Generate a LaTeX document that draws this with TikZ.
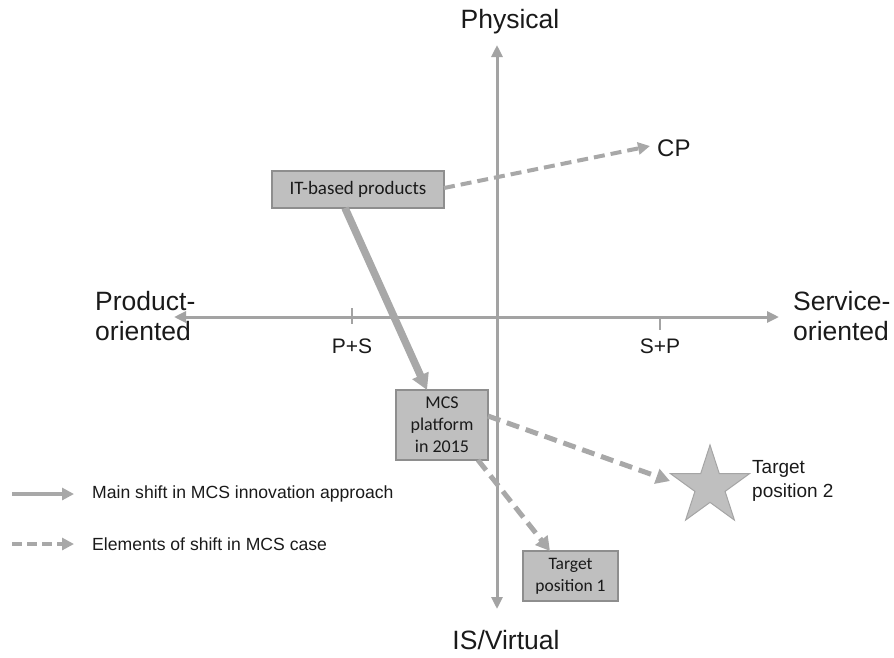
\documentclass[tikz,border=0pt]{standalone}
\usepackage{fontspec}
\setmainfont{Liberation Sans}
\newfontfamily\boxfont{Carlito}
\usetikzlibrary{arrows.meta,shapes.geometric}
\definecolor{axisgray}{HTML}{A3A3A3}
\definecolor{arrgray}{HTML}{A8A8A8}
\definecolor{boxfill}{HTML}{BFBFBF}
\definecolor{boxline}{HTML}{8E8E8E}
\definecolor{txt}{HTML}{1A1A1A}
\tikzset{
  axisline/.style={draw=axisgray, line width=3pt, {Triangle[length=12pt,width=11pt]}-{Triangle[length=12pt,width=11pt]}},
  tickline/.style={draw=axisgray, line width=2.5pt},
  mainarrow/.style={draw=arrgray, line width=7.5pt, -{Triangle[length=16pt,width=17pt]}},
  dasharrow/.style={draw=arrgray, line width=5pt, dash pattern=on 13pt off 7pt, -{Triangle[length=14pt,width=15pt]}},
  thindash/.style={draw=arrgray, line width=4pt, dash pattern=on 11pt off 6pt, -{Triangle[length=12pt,width=12pt]}},
  legmain/.style={draw=arrgray, line width=4pt, -{Triangle[length=12pt,width=12pt]}},
  legdash/.style={draw=arrgray, line width=4pt, dash pattern=on 10pt off 5pt, -{Triangle[length=12pt,width=12pt]}},
  graybox/.style={draw=boxline, line width=1.2pt, fill=boxfill, text=txt, font=\boxfont\fontsize{18}{22}\selectfont, align=center, inner sep=0pt},
  axislabel/.style={text=txt, font=\fontsize{26.5}{30}\selectfont, inner sep=0pt},
  ticklabel/.style={text=txt, font=\fontsize{21}{25}\selectfont, inner sep=0pt},
  legtext/.style={text=txt, font=\fontsize{17.6}{20}\selectfont, inner sep=0pt, anchor=west},
}
\begin{document}
\begin{tikzpicture}[x=1pt,y=-1pt]
\useasboundingbox (0,0) rectangle (894,657);
% axes
\coordinate (vtop) at (497,45);
\coordinate (vbot) at (497,609);
\coordinate (hl) at (174,317);
\coordinate (hr) at (779,317);
\draw[axisline] (vbot) -- (vtop);
\draw[axisline] (hl) -- (hr);
\coordinate (ps1) at (352,308);
\coordinate (ps2) at (352,324);
\coordinate (sp1) at (660,317);
\coordinate (sp2) at (660,330);
\draw[tickline] (ps1) -- (ps2);
\draw[tickline] (sp1) -- (sp2);
% axis labels
\node[axislabel] (phys) at (510,22) {Physical};
\node[axislabel] (isv) at (506,640) {IS/Virtual};
\node[axislabel, anchor=west, align=left] (prod) at (95,316) {Product-\\oriented};
\node[axislabel, anchor=west, align=left] (serv) at (793,316) {Service-\\oriented};
\node[ticklabel] (pslab) at (352,346) {P+S};
\node[ticklabel] (splab) at (660,346) {S+P};
\node[ticklabel, anchor=west, font=\fontsize{24}{28}\selectfont] (cp) at (657,148) {CP};
% boxes
\node[graybox, minimum width=172pt, minimum height=37pt, font=\boxfont\fontsize{19}{22}\selectfont] (itb) at (358,189.5) {IT-based products};
\node[graybox, minimum width=92pt, minimum height=70pt] (mcs) at (442,425) {MCS\\platform\\in 2015};
\node[graybox, minimum width=95pt, minimum height=50pt, font=\boxfont\fontsize{17.5}{22}\selectfont] (tp1) at (570.5,576) {Target\\position 1};
% star
\node[star, star points=5, star point ratio=2.618, minimum size=83pt, inner sep=0pt, fill=boxfill, draw=boxline!80, line width=1pt] (star) at (710,486.5) {};
\node[ticklabel, anchor=west, align=left, font=\fontsize{19}{24}\selectfont] (tp2) at (752,481) {Target\\position 2};
% connectors
\coordinate (itbot) at (345,208);
\coordinate (mcstop) at (427,390);
\draw[mainarrow] (itbot) -- (mcstop);
\coordinate (itright) at (444,188);
\coordinate (cptip) at (650,146);
\draw[thindash] (itright) -- (cptip);
\coordinate (mcsr) at (488,416);
\coordinate (startip) at (670,481);
\draw[dasharrow] (mcsr) -- (startip);
\coordinate (mcsb) at (478,460);
\coordinate (tp1top) at (550,551);
\draw[dasharrow] (mcsb) -- (tp1top);
% legend
\coordinate (l1a) at (12,494);
\coordinate (l1b) at (74,494);
\coordinate (l2a) at (12,544);
\coordinate (l2b) at (74,544);
\draw[legmain] (l1a) -- (l1b);
\draw[legdash] (l2a) -- (l2b);
\node[legtext] (leg1) at (92,494) {Main shift in MCS innovation approach};
\node[legtext] (leg2) at (92,544) {Elements of shift in MCS case};
\end{tikzpicture}
\end{document}
